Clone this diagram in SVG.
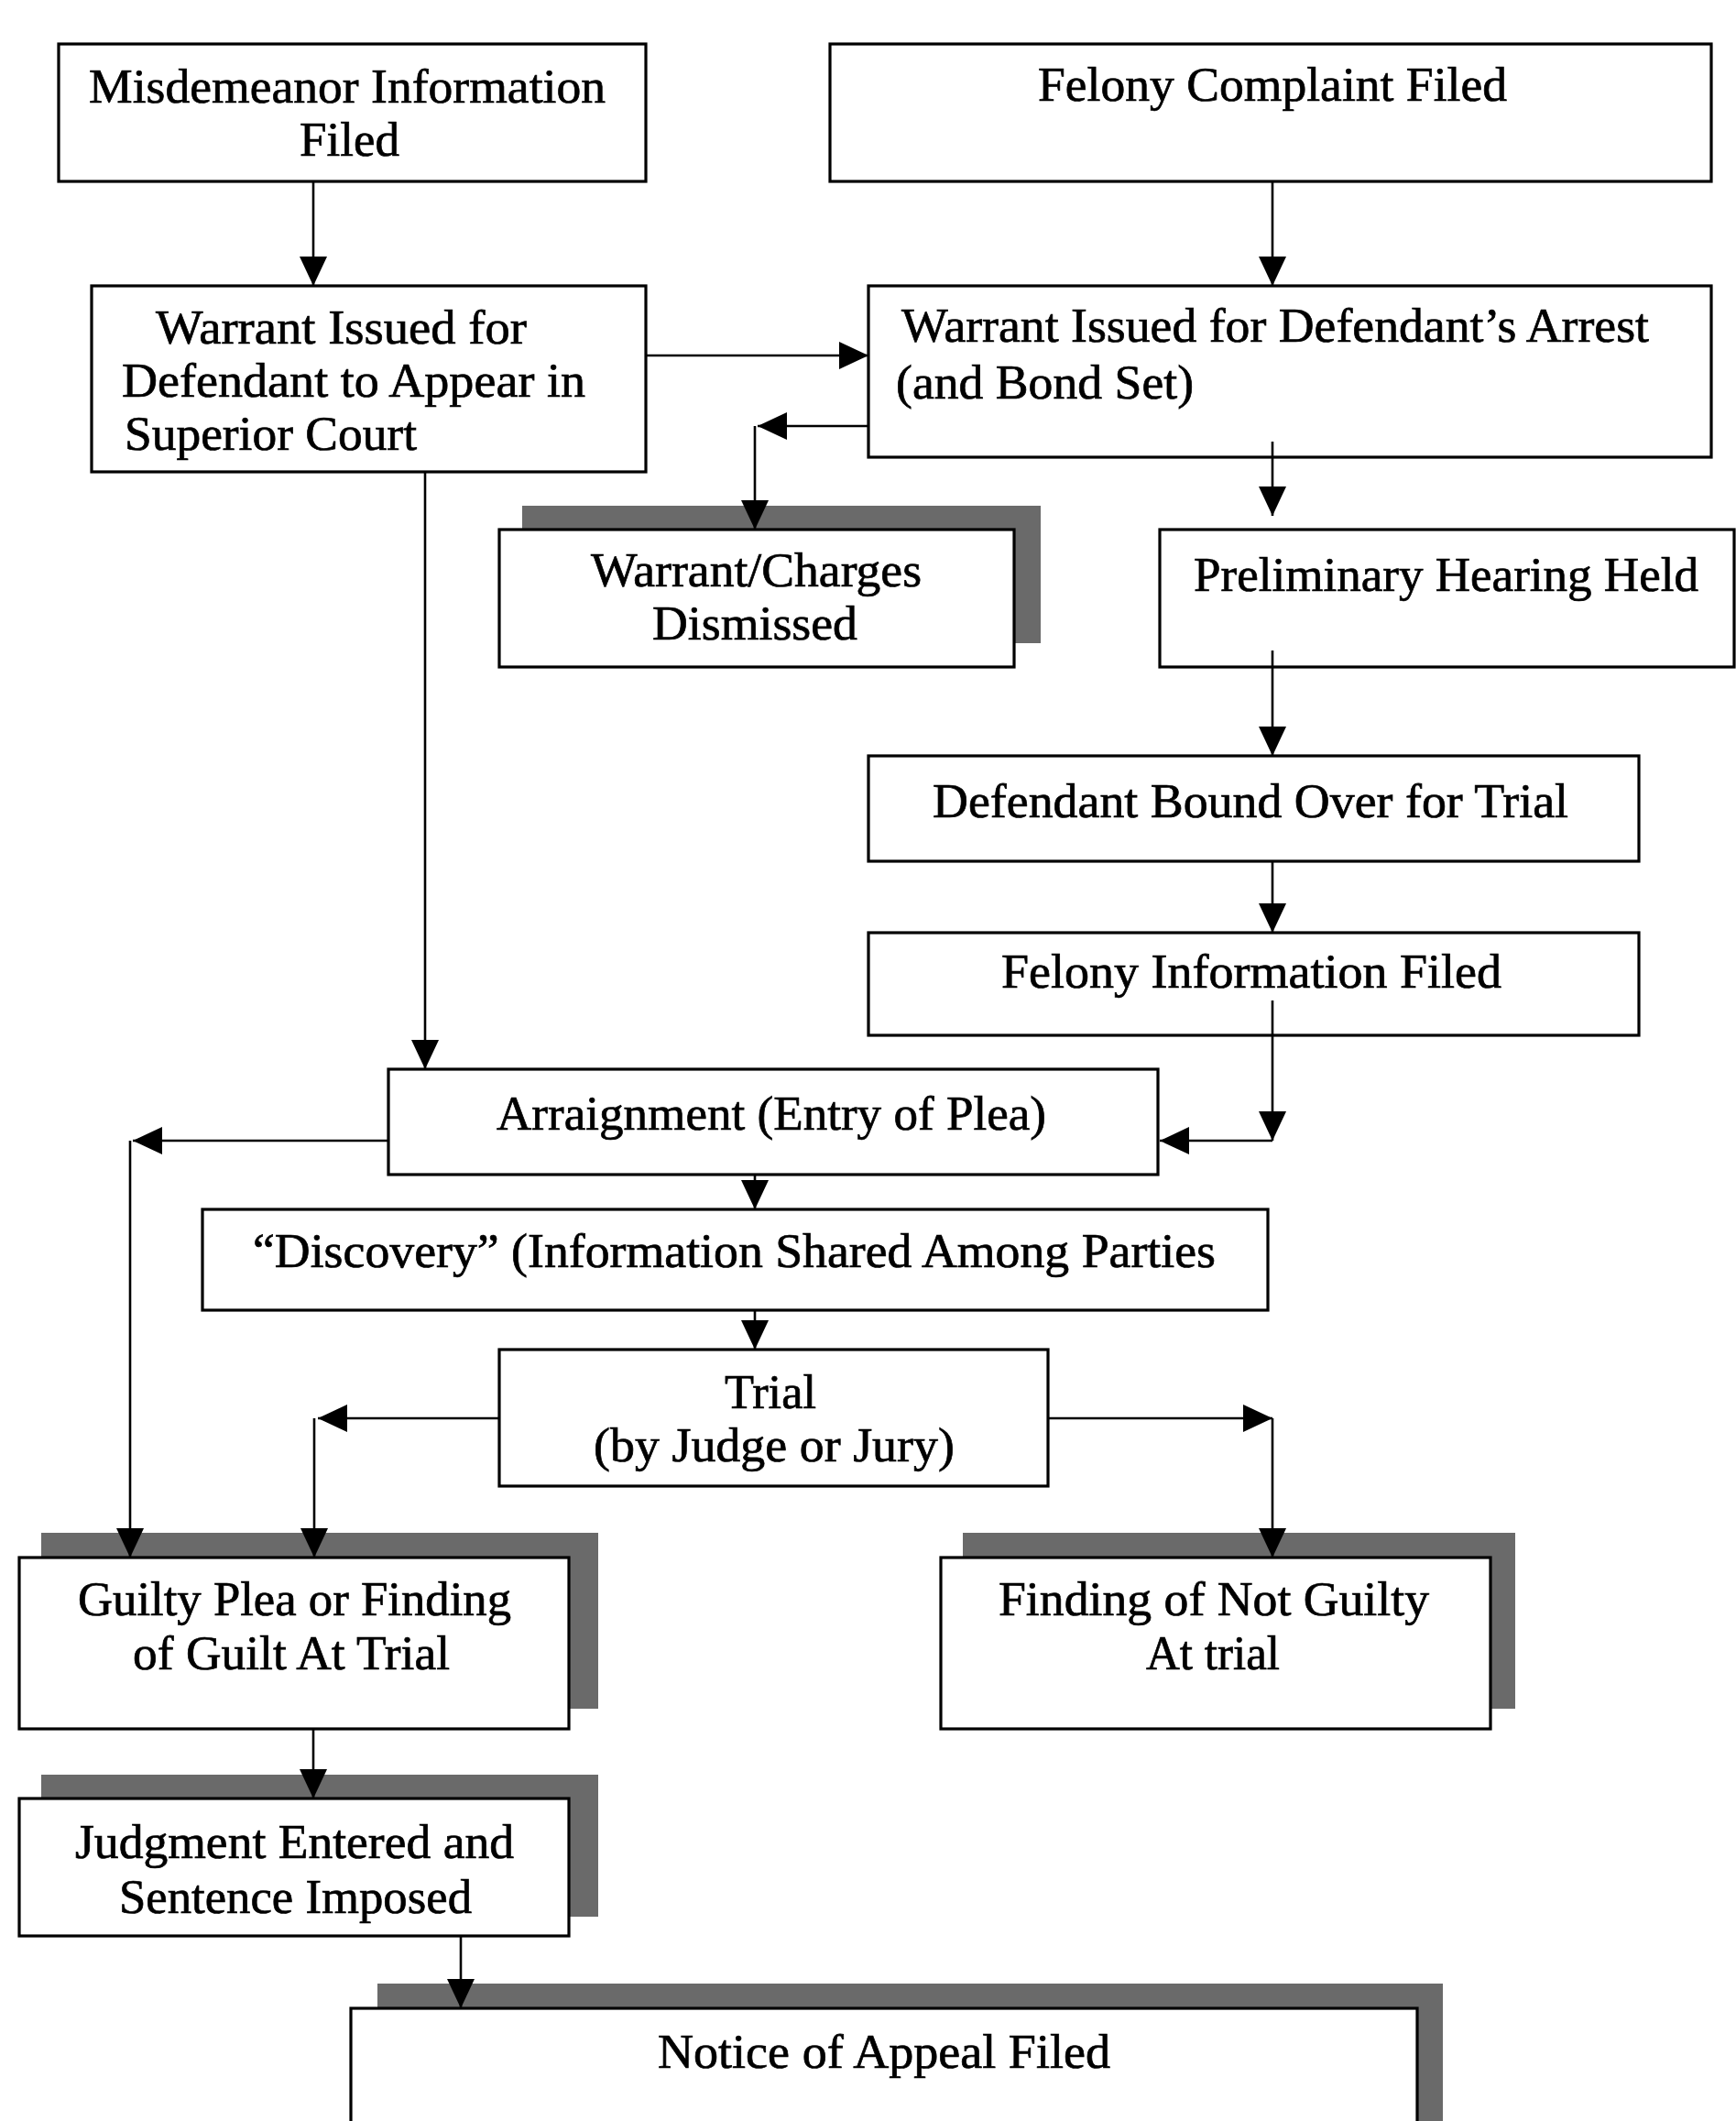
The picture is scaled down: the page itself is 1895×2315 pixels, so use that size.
<svg xmlns="http://www.w3.org/2000/svg" width="1895" height="2315" viewBox="0 0 1895 2315">
<style>
.box{fill:#fff;stroke:#000;stroke-width:3.2}
.sh{fill:#6a6a6a}
.t{font-family:"Liberation Serif","Times New Roman",serif;font-size:52px;fill:#000;stroke:#000;stroke-width:0.7}
.c{stroke:#000;stroke-width:2.6;fill:none}
</style>
<defs>
<marker id="ah" markerWidth="32" markerHeight="30" refX="32" refY="15" orient="auto" markerUnits="userSpaceOnUse">
<path d="M0,0 L32,15 L0,30 z" fill="#000"/>
</marker>
</defs>
<rect width="1895" height="2315" fill="#fff"/>

<g id="misdemeanor">
<rect class="box" x="64" y="48" width="641" height="150"/>
<text class="t" x="97" y="112" textLength="564" lengthAdjust="spacingAndGlyphs">Misdemeanor Information</text>
<text class="t" x="327" y="170" textLength="109" lengthAdjust="spacingAndGlyphs">Filed</text>
</g>

<g id="felony-complaint">
<rect class="box" x="906" y="48" width="962" height="150"/>
<text class="t" x="1133" y="110" textLength="512" lengthAdjust="spacingAndGlyphs">Felony Complaint Filed</text>
</g>

<g id="warrant-appear">
<rect class="box" x="100" y="312" width="605" height="203"/>
<text class="t" x="170" y="375" textLength="405" lengthAdjust="spacingAndGlyphs">Warrant Issued for</text>
<text class="t" x="133" y="433" textLength="506" lengthAdjust="spacingAndGlyphs">Defendant to Appear in</text>
<text class="t" x="136" y="491" textLength="319" lengthAdjust="spacingAndGlyphs">Superior Court</text>
</g>

<g id="warrant-arrest">
<rect class="box" x="948" y="312" width="920" height="187"/>
<text class="t" x="984" y="373" textLength="816" lengthAdjust="spacingAndGlyphs">Warrant Issued for Defendant’s Arrest</text>
<text class="t" x="978" y="435" textLength="325" lengthAdjust="spacingAndGlyphs">(and Bond Set)</text>
</g>

<g id="dismissed">
<rect class="sh" x="570" y="552" width="566" height="150"/>
<rect class="box" x="545" y="578" width="562" height="150"/>
<text class="t" x="645" y="640" textLength="361" lengthAdjust="spacingAndGlyphs">Warrant/Charges</text>
<text class="t" x="712" y="698" textLength="224" lengthAdjust="spacingAndGlyphs">Dismissed</text>
</g>

<g id="preliminary">
<rect class="box" x="1266" y="578" width="627" height="150"/>
<text class="t" x="1303" y="645" textLength="551" lengthAdjust="spacingAndGlyphs">Preliminary Hearing Held</text>
</g>

<g id="bound-over">
<rect class="box" x="948" y="825" width="841" height="115"/>
<text class="t" x="1018" y="892" textLength="694" lengthAdjust="spacingAndGlyphs">Defendant Bound Over for Trial</text>
</g>

<g id="felony-information">
<rect class="box" x="948" y="1018" width="841" height="112"/>
<text class="t" x="1093" y="1078" textLength="546" lengthAdjust="spacingAndGlyphs">Felony Information Filed</text>
</g>

<g id="arraignment">
<rect class="box" x="424" y="1167" width="840" height="115"/>
<text class="t" x="542" y="1233" textLength="600" lengthAdjust="spacingAndGlyphs">Arraignment (Entry of Plea)</text>
</g>

<g id="discovery">
<rect class="box" x="221" y="1320" width="1163" height="110"/>
<text class="t" x="276" y="1383" textLength="1051" lengthAdjust="spacingAndGlyphs">“Discovery” (Information Shared Among Parties</text>
</g>

<g id="trial">
<rect class="box" x="545" y="1473" width="599" height="149"/>
<text class="t" x="791" y="1537" textLength="100" lengthAdjust="spacingAndGlyphs">Trial</text>
<text class="t" x="648" y="1595" textLength="394" lengthAdjust="spacingAndGlyphs">(by Judge or Jury)</text>
</g>

<g id="guilty">
<rect class="sh" x="45" y="1673" width="608" height="192"/>
<rect class="box" x="21" y="1700" width="600" height="187"/>
<text class="t" x="85" y="1763" textLength="473" lengthAdjust="spacingAndGlyphs">Guilty Plea or Finding</text>
<text class="t" x="145" y="1822" textLength="346" lengthAdjust="spacingAndGlyphs">of Guilt At Trial</text>
</g>

<g id="not-guilty">
<rect class="sh" x="1051" y="1673" width="603" height="192"/>
<rect class="box" x="1027" y="1700" width="600" height="187"/>
<text class="t" x="1090" y="1763" textLength="470" lengthAdjust="spacingAndGlyphs">Finding of Not Guilty</text>
<text class="t" x="1251" y="1822" textLength="146" lengthAdjust="spacingAndGlyphs">At trial</text>
</g>

<g id="judgment">
<rect class="sh" x="45" y="1937" width="608" height="155"/>
<rect class="box" x="21" y="1963" width="600" height="150"/>
<text class="t" x="82" y="2028" textLength="479" lengthAdjust="spacingAndGlyphs">Judgment Entered and</text>
<text class="t" x="130" y="2088" textLength="385" lengthAdjust="spacingAndGlyphs">Sentence Imposed</text>
</g>

<g id="notice-appeal">
<rect class="sh" x="412" y="2165" width="1163" height="200"/>
<rect class="box" x="383" y="2192" width="1164" height="200"/>
<text class="t" x="718" y="2257" textLength="494" lengthAdjust="spacingAndGlyphs">Notice of Appeal Filed</text>
</g>

<g id="connectors">
<line class="c" x1="342" y1="198" x2="342" y2="312" marker-end="url(#ah)"/>
<line class="c" x1="1389" y1="198" x2="1389" y2="312" marker-end="url(#ah)"/>
<line class="c" x1="705" y1="388" x2="948" y2="388" marker-end="url(#ah)"/>
<line class="c" x1="948" y1="465" x2="827" y2="465" marker-end="url(#ah)"/>
<line class="c" x1="824" y1="465" x2="824" y2="578" marker-end="url(#ah)"/>
<line class="c" x1="1389" y1="482" x2="1389" y2="563" marker-end="url(#ah)"/>
<line class="c" x1="1389" y1="710" x2="1389" y2="825" marker-end="url(#ah)"/>
<line class="c" x1="1389" y1="940" x2="1389" y2="1018" marker-end="url(#ah)"/>
<line class="c" x1="1389" y1="1092" x2="1389" y2="1245" marker-end="url(#ah)"/>
<line class="c" x1="1389" y1="1245" x2="1266" y2="1245" marker-end="url(#ah)"/>
<line class="c" x1="464" y1="515" x2="464" y2="1167" marker-end="url(#ah)"/>
<line class="c" x1="424" y1="1245" x2="145" y2="1245" marker-end="url(#ah)"/>
<line class="c" x1="142" y1="1245" x2="142" y2="1700" marker-end="url(#ah)"/>
<line class="c" x1="824" y1="1282" x2="824" y2="1320" marker-end="url(#ah)"/>
<line class="c" x1="824" y1="1430" x2="824" y2="1473" marker-end="url(#ah)"/>
<line class="c" x1="545" y1="1548" x2="347" y2="1548" marker-end="url(#ah)"/>
<line class="c" x1="343" y1="1548" x2="343" y2="1700" marker-end="url(#ah)"/>
<line class="c" x1="1144" y1="1548" x2="1389" y2="1548" marker-end="url(#ah)"/>
<line class="c" x1="1389" y1="1548" x2="1389" y2="1700" marker-end="url(#ah)"/>
<line class="c" x1="342" y1="1887" x2="342" y2="1963" marker-end="url(#ah)"/>
<line class="c" x1="503" y1="2113" x2="503" y2="2192" marker-end="url(#ah)"/>
</g>
</svg>
